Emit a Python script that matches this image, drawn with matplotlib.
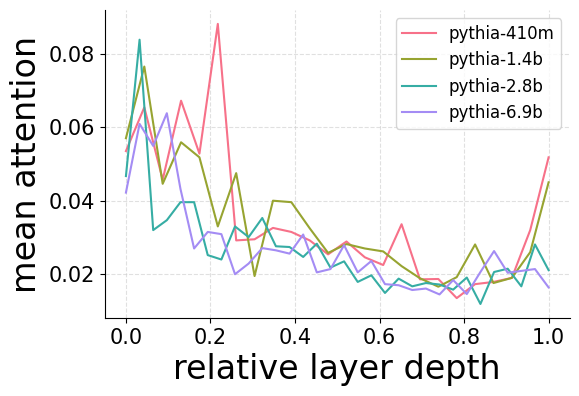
import numpy as np
import matplotlib
matplotlib.use("Agg")
from matplotlib import pyplot as plt

# mean attention per layer
models = ["pythia-410m", "pythia-1.4b", "pythia-2.8b", "pythia-6.9b"]
colors = ["#f77189", "#97a431", "#36ada4", "#a48cf4"]

attn_410m = [0.0535, 0.0654, 0.0457, 0.0672, 0.0528, 0.0881, 0.0292, 0.0295,
             0.0326, 0.0315, 0.0292, 0.0254, 0.0289, 0.0246, 0.0225, 0.0336,
             0.0186, 0.0187, 0.0135, 0.0173, 0.0179, 0.0190, 0.0320, 0.0518]
attn_1_4b = [0.0570, 0.0765, 0.0446, 0.0559, 0.0518, 0.0330, 0.0475, 0.0195,
             0.0400, 0.0396, 0.0325, 0.0258, 0.0282, 0.0270, 0.0262, 0.0222,
             0.0189, 0.0166, 0.0192, 0.0281, 0.0176, 0.0190, 0.0260, 0.0450]
attn_2_8b = [0.0467, 0.0838, 0.0320, 0.0347, 0.0396, 0.0396, 0.0252, 0.0240,
             0.0330, 0.0301, 0.0353, 0.0276, 0.0274, 0.0247, 0.0283, 0.0218,
             0.0235, 0.0179, 0.0197, 0.0149, 0.0188, 0.0167, 0.0176, 0.0172,
             0.0158, 0.0191, 0.0119, 0.0206, 0.0215, 0.0167, 0.0281, 0.0211]
attn_6_9b = [0.0422, 0.0609, 0.0549, 0.0638, 0.0432, 0.0270, 0.0315, 0.0309,
             0.0200, 0.0229, 0.0271, 0.0265, 0.0256, 0.0308, 0.0205, 0.0214,
             0.0279, 0.0205, 0.0236, 0.0173, 0.0170, 0.0157, 0.0161, 0.0145,
             0.0184, 0.0146, 0.0206, 0.0263, 0.0204, 0.0209, 0.0214, 0.0164]

series = [attn_410m, attn_1_4b, attn_2_8b, attn_6_9b]

fig = plt.figure(figsize=(5.79, 3.96), dpi=100)
fig.subplots_adjust(left=0.181, right=0.984, top=0.975, bottom=0.197)
ax = fig.add_subplot(111)

for name, vals, color in zip(models, series, colors):
    # relative depth = layer index / (n_layers - 1)
    depth = np.arange(len(vals)) / (len(vals) - 1)
    ax.plot(depth, vals, color=color, linewidth=1.5, label=name)

ax.set_xlabel("relative layer depth", fontsize=24)
ax.set_ylabel("mean attention", fontsize=24)
ax.tick_params(labelsize=15)
ax.set_xticks([0.0, 0.2, 0.4, 0.6, 0.8, 1.0])
ax.set_yticks([0.02, 0.04, 0.06, 0.08])
ax.grid(True, linestyle="--", color="#cccccc", alpha=0.6)
ax.spines["top"].set_visible(False)
ax.spines["right"].set_visible(False)
ax.legend(loc="upper right", fontsize=12)

plt.savefig("out.png", dpi=100)
